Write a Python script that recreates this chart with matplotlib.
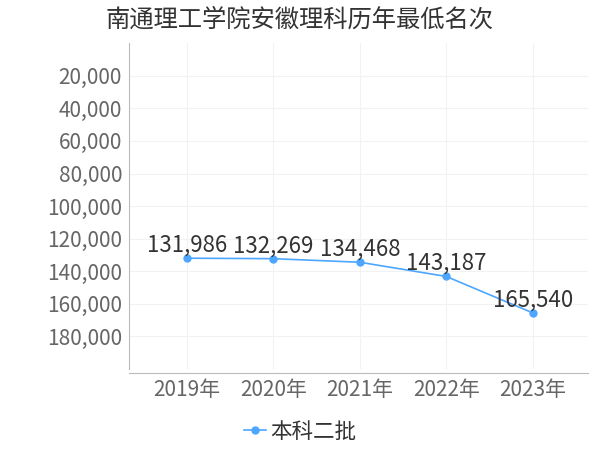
import matplotlib
matplotlib.use("Agg")
import matplotlib.pyplot as plt
from matplotlib.ticker import FuncFormatter

plt.rcParams['font.family'] = ['Noto Sans CJK SC', 'DejaVu Sans']

# data
years = ['2019年', '2020年', '2021年', '2022年', '2023年']
ranks = [131986, 132269, 134468, 143187, 165540]
series_name = '本科二批'
title = '南通理工学院安徽理科历年最低名次'
y_ticks = [20000, 40000, 60000, 80000, 100000, 120000, 140000, 160000, 180000]

line_color = '#4da6ff'
x = list(range(len(years)))

fig = plt.figure(figsize=(6, 4.5), dpi=100)
ax = fig.add_axes([0.215, 0.18, 0.765, 0.724])

ax.plot(x, ranks, color=line_color, lw=1.2, marker='o', ms=5,
        label=series_name, zorder=3)
for xi, v in zip(x, ranks):
    ax.annotate(f'{v:,}', (xi, v), xytext=(0, 1), textcoords='offset points',
                ha='center', va='bottom', fontsize=16, color='#333333', zorder=4)

ax.set_ylim(200000, 0)
ax.set_xlim(-0.67, 4.64)
ax.set_yticks(y_ticks)
ax.yaxis.set_major_formatter(FuncFormatter(lambda v, p: f'{int(v):,}'))
ax.set_xticks(x)
ax.set_xticklabels(years)

ax.grid(True, color='#f2f2f2', lw=0.8)
ax.set_axisbelow(True)
for s in ['top', 'right']:
    ax.spines[s].set_visible(False)
ax.spines['left'].set_color('#bbbbbb')
ax.spines['bottom'].set_color('#bbbbbb')
ax.spines['bottom'].set_position(('outward', 3))
ax.tick_params(axis='y', length=0, labelsize=15, labelcolor='#666666', pad=5)
ax.tick_params(axis='x', length=0, labelsize=15, labelcolor='#666666', pad=4)

fig.text(0.5, 0.957, title, ha='center', va='center', fontsize=17.5,
         color='#333333')

leg = fig.legend(loc='center', bbox_to_anchor=(0.5, 0.04), frameon=False,
                 prop={'size': 15.5}, handlelength=1.0, handletextpad=0.2)
for t in leg.get_texts():
    t.set_color('#333333')

fig.savefig('out.png', dpi=100)
